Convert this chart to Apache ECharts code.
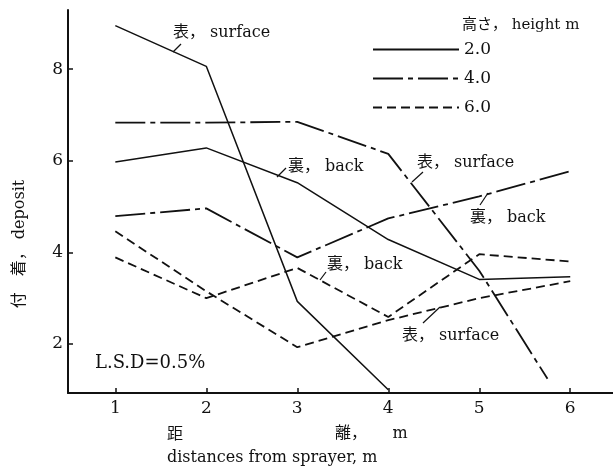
<!DOCTYPE html>
<html>
<head>
<meta charset="utf-8">
<script src="https://cdn.jsdelivr.net/npm/echarts@6/dist/echarts.min.js"></script>
<style>
html,body{margin:0;padding:0;background:#fff;}
#chart{width:613px;height:467px;}
</style>
</head>
<body>
<div id="chart"></div>
<script>
// ---- data ----
const distances = [1, 2, 3, 4, 5, 6];
const xTicks = [1, 2, 3, 4, 5, 6];
const yTicks = [2, 4, 6, 8];
const heights = ['2.0', '4.0', '6.0'];

const h2SurfaceX = [1, 2, 3, 4];
const h2Surface = [8.95, 8.06, 2.93, 1.0];
const h2Back = [5.97, 6.28, 5.52, 4.28, 3.41, 3.47];

const h4SurfaceX = [1, 2, 3, 4, 5, 5.75];
const h4Surface = [6.83, 6.83, 6.85, 6.15, 3.6, 1.24];
const h4Back = [4.79, 4.96, 3.89, 4.74, 5.22, 5.77];

const h6Back = [3.89, 3.0, 3.66, 2.59, 3.96, 3.8];
const h6Surface = [4.46, 3.15, 1.93, 2.52, 3.0, 3.37];

const zip = (xs, ys) => xs.map((x, i) => [x, ys[i]]);

const INK = '#111';
const SERIF = '"DejaVu Serif", "Noto Sans CJK JP", serif';

const solid = { color: INK, width: 1.5, type: 'solid' };
const dashDot = { color: INK, width: 1.8, type: [30, 5, 5, 5] };
const dashed = { color: INK, width: 1.8, type: [9, 5] };

function line(name, data, style) {
  return {
    name: name, type: 'line', data: data, symbol: 'none',
    lineStyle: style, itemStyle: { color: INK },
    emphasis: { disabled: true }, silent: true
  };
}

const chart = echarts.init(document.getElementById('chart'), null, { renderer: 'canvas' });

function txt(x, y, s, size, extra) {
  return Object.assign({
    type: 'text', x: x, y: y,
    style: { text: s, fill: INK, font: size + 'px ' + SERIF, textVerticalAlign: 'middle', textAlign: 'left' }
  }, extra || {});
}
function seg(x1, y1, x2, y2) {
  return { type: 'line', shape: { x1: x1, y1: y1, x2: x2, y2: y2 }, style: { stroke: INK, lineWidth: 1.2 } };
}

chart.setOption({
  animation: false,
  backgroundColor: '#fff',
  grid: { left: 68, right: 0, top: 10, bottom: 74 },
  xAxis: {
    type: 'value', min: 0.48, max: 6.47,
    axisLine: { lineStyle: { color: INK, width: 2 } },
    axisTick: { show: true, inside: true, length: 5, lineStyle: { color: INK, width: 1.5 }, customValues: xTicks },
    axisLabel: { color: INK, fontSize: 17, fontFamily: SERIF, margin: 7, customValues: xTicks },
    splitLine: { show: false }
  },
  yAxis: {
    type: 'value', min: 0.93, max: 9.29,
    axisLine: { show: true, lineStyle: { color: INK, width: 2 } },
    axisTick: { show: true, inside: true, length: 5, lineStyle: { color: INK, width: 1.5 }, customValues: yTicks },
    axisLabel: { color: INK, fontSize: 17, fontFamily: SERIF, margin: 5, customValues: yTicks },
    splitLine: { show: false }
  },
  legend: {
    data: heights, orient: 'vertical', left: 367, top: 36,
    itemWidth: 86, itemHeight: 14, itemGap: 12,
    itemStyle: { color: 'rgba(0,0,0,0)', borderWidth: 0, opacity: 0 },
    textStyle: { color: INK, fontSize: 17, lineHeight: 17, fontFamily: SERIF },
    selectedMode: false
  },
  series: [
    line(heights[0], zip(h2SurfaceX, h2Surface), solid),
    line(heights[0], zip(distances, h2Back), solid),
    line(heights[1], zip(h4SurfaceX, h4Surface), dashDot),
    line(heights[1], zip(distances, h4Back), dashDot),
    line(heights[2], zip(distances, h6Back), dashed),
    line(heights[2], zip(distances, h6Surface), dashed)
  ],
  graphic: [
    txt(462, 25, '高さ， height m', 15),
    txt(173, 33, '表， surface', 16), seg(173, 52, 181, 44),
    txt(288, 167, '裏， back', 16), seg(277, 177, 286, 168),
    txt(417, 163, '表， surface', 16), seg(412, 182, 423, 172),
    txt(470, 218, '裏， back', 16), seg(488, 193, 480, 205),
    txt(327, 265, '裏， back', 16), seg(320, 280, 326, 272),
    txt(402, 336, '表， surface', 16), seg(423, 323, 440, 307),
    txt(95, 363, 'L.S.D=0.5%', 18),
    txt(167, 435, '距', 16),
    txt(335, 434, '離，     m', 16),
    txt(167, 458, 'distances from sprayer, m', 16),
    txt(20, 244, '付　着， deposit', 16, { rotation: Math.PI / 2, style: { text: '付　着， deposit', fill: INK, font: '16px ' + SERIF, textVerticalAlign: 'middle', textAlign: 'center' } })
  ]
});
</script>
</body>
</html>
